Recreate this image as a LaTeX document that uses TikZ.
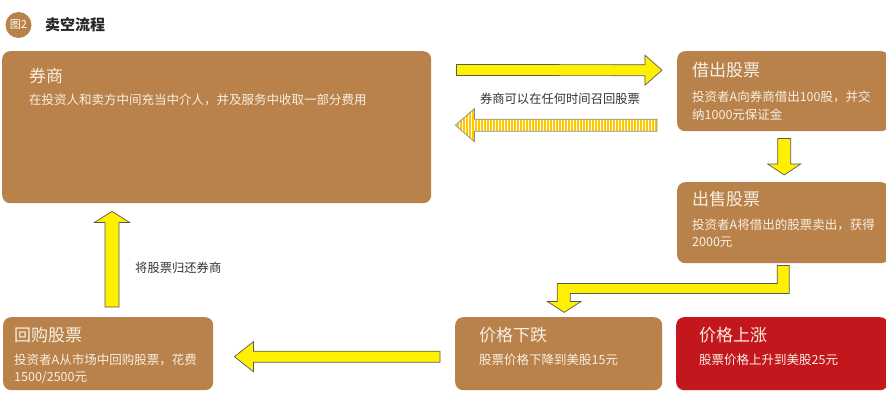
\documentclass[tikz,border=0pt]{standalone}
\usepackage{fontspec}
\setmainfont{Noto Sans CJK SC}
\usepackage{tikz}
\usetikzlibrary{calc}
\usetikzlibrary{patterns}
\usepackage{xcolor}

\definecolor{tan}{HTML}{B9824A}
\definecolor{alarm}{HTML}{C4171D}
\definecolor{paper}{HTML}{F8EFE4}
\definecolor{lemon}{HTML}{FFF000}
\definecolor{gold}{HTML}{FFC800}
\definecolor{ink}{HTML}{333333}

% straight block arrow: [options]{from}{to}{shaft half}{head half}{head length}
\newcommand{\blockarrow}[6][]{%
  \coordinate (ba-h) at ($(#3)!#6!(#2)$);
  \draw[arrowfill,#1] ($(#2)!#4!90:(#3)$) -- ($(ba-h)!#4!90:(#3)$) -- ($(ba-h)!#5!90:(#3)$)
    -- (#3) -- ($(ba-h)!#5!-90:(#3)$) -- ($(ba-h)!#4!-90:(#3)$) -- ($(#2)!#4!-90:(#3)$) -- cycle;
}

\begin{document}
\begin{tikzpicture}[x=1pt,y=-1pt,
  stepbox/.style={fill=tan, rounded corners=8pt, inner sep=0pt, anchor=north west},
  boxtitle/.style={anchor=west, inner sep=0pt, text=paper, font=\fontsize{17}{20}\selectfont},
  boxnote/.style={anchor=west, inner sep=0pt, text=paper, align=left, font=\fontsize{12.5}{17.5}\selectfont},
  remark/.style={inner sep=0pt, text=ink, font=\fontsize{12.3}{15}\selectfont},
  arrowfill/.style={fill=lemon, draw=black!65, line width=0.7pt, line join=miter}]
  \useasboundingbox (0,0) rectangle (886,412);

  % heading
  \node[circle, fill=tan, minimum size=26pt, inner sep=0pt, text=white,
        font=\fontsize{11}{12}\selectfont] (badge) at (18.5,25) {图2};
  \node[anchor=west, inner sep=0pt, text=black!85, font=\fontsize{15}{17}\selectfont\bfseries]
        (heading) at (45,25) {卖空流程};

  % boxes
  \node[stepbox, minimum width=429pt, minimum height=152pt] (broker) at (2,51) {};
  \node[stepbox, minimum width=212pt, minimum height=80pt] (lend) at (677,51) {};
  \node[stepbox, minimum width=212pt, minimum height=81pt] (sell) at (677,182) {};
  \node[stepbox, minimum width=210pt, minimum height=73pt] (buyback) at (3,317) {};
  \node[stepbox, minimum width=207pt, minimum height=73pt] (fall) at (455,317) {};
  \node[stepbox, fill=alarm, minimum width=212pt, minimum height=73pt] (rise) at (676,317) {};

  \node[boxtitle] (broker-t) at ($(broker.north west)+(27,25)$) {券商};
  \node[boxnote] (broker-n) at ($(broker.north west)+(27,49)$) {在投资人和卖方中间充当中介人，并及服务中收取一部分费用};
  \node[boxtitle] (lend-t) at ($(lend.north west)+(15,19)$) {借出股票};
  \node[boxnote] (lend-n) at ($(lend.north west)+(15,54.5)$) {投资者A向券商借出100股，并交\\纳1000元保证金};
  \node[boxtitle] (sell-t) at ($(sell.north west)+(15,17)$) {出售股票};
  \node[boxnote] (sell-n) at ($(sell.north west)+(15,51)$) {投资者A将借出的股票卖出，获得\\2000元};
  \node[boxtitle] (buyback-t) at ($(buyback.north west)+(11,18)$) {回购股票};
  \node[boxnote] (buyback-n) at ($(buyback.north west)+(11,52)$) {投资者A从市场中回购股票，花费\\1500/2500元};
  \node[boxtitle] (fall-t) at ($(fall.north west)+(24,18)$) {价格下跌};
  \node[boxnote] (fall-n) at ($(fall.north west)+(24,43)$) {股票价格下降到美股15元};
  \node[boxtitle] (rise-t) at ($(rise.north west)+(23,18)$) {价格上涨};
  \node[boxnote] (rise-n) at ($(rise.north west)+(23,43)$) {股票价格上升到美股25元};

  % arrows
  \coordinate (lend-s) at ($(broker.north east)+(25,19)$);
  \coordinate (lend-e) at ($(lend.west)+(-15,-21)$);
  \blockarrow{lend-s}{lend-e}{5.5pt}{15pt}{17pt}

  \coordinate (recall-s) at ($(lend.west)+(-20,34)$);
  \coordinate (recall-e) at ($(broker.east)+(24,-2)$);
  \blockarrow[fill=none, preaction={fill=gold}, pattern=vertical lines, pattern color=white, draw=black!45]{recall-s}{recall-e}{6pt}{16.5pt}{19pt}
  \node[remark] (recall-l) at (560,99) {券商可以在任何时间召回股票};

  \coordinate (sell-s) at ($(lend.south)+(1,7)$);
  \coordinate (sell-e) at ($(sell.north)+(1,-7)$);
  \blockarrow{sell-s}{sell-e}{6.5pt}{16.5pt}{11pt}

  \coordinate (bend-s) at ($(sell.south)+(6,2)$);
  \draw[arrowfill] (bend-s) -- ++(0,28) -- ++(-219,0) -- ++(0,8) -- ++(11,0) -- ++(-17,11)
    -- ++(-17,-11) -- ++(10,0) -- ++(0,-18) -- ++(220,0) -- ++(0,-18) -- cycle;

  \coordinate (buy-s) at ($(fall.west)+(-15,3)$);
  \coordinate (buy-e) at ($(buyback.east)+(21,3)$);
  \blockarrow{buy-s}{buy-e}{5.5pt}{15pt}{19pt}

  \coordinate (back-s) at ($(buyback.north west)+(109,-10)$);
  \coordinate (back-e) at ($(broker.south west)+(110,8)$);
  \blockarrow{back-s}{back-e}{7pt}{17.5pt}{11pt}
  \node[remark, anchor=west] (back-l) at (135,268) {将股票归还券商};
\end{tikzpicture}
\end{document}
